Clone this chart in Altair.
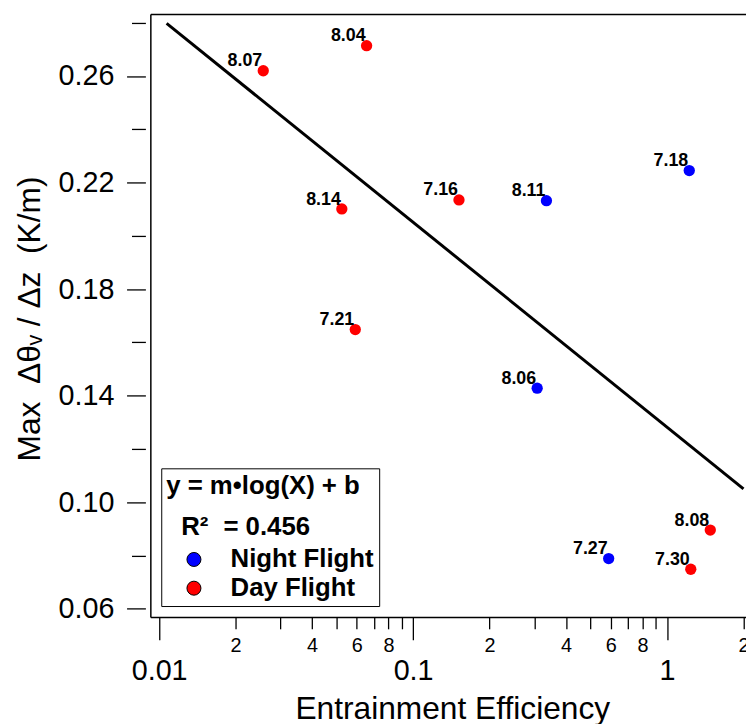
import altair as alt
import pandas as pd

# values
flight = ["8.07", "8.04", "8.14", "7.16", "8.11", "7.18", "7.21", "8.06", "7.27", "8.08", "7.30"]
efficiency = [0.0257, 0.0656, 0.0524, 0.1516, 0.335, 1.223, 0.0592, 0.308, 0.589, 1.480, 1.240]
max_gradient = [0.2620, 0.2714, 0.2101, 0.2135, 0.2132, 0.2245, 0.1648, 0.1428, 0.0788, 0.0895, 0.0748]
period = [
    "Day Flight", "Day Flight", "Day Flight", "Day Flight", "Night Flight", "Night Flight",
    "Day Flight", "Night Flight", "Night Flight", "Day Flight", "Day Flight",
]

# end points of the fitted line y = m*log(X) + b
fit_x = [0.0107, 2.0]
fit_y = [0.2798, 0.105]

x_ticks = [
    0.01, 0.02, 0.03, 0.04, 0.05, 0.06, 0.07, 0.08, 0.09,
    0.1, 0.2, 0.3, 0.4, 0.5, 0.6, 0.7, 0.8, 0.9,
    1, 2,
]
y_ticks = [0.06, 0.08, 0.10, 0.12, 0.14, 0.16, 0.18, 0.20, 0.22, 0.24, 0.26, 0.28]

points = pd.DataFrame(
    {"flight": flight, "eff": efficiency, "grad": max_gradient, "period": period}
)
fit = pd.DataFrame({"eff": fit_x, "grad": fit_y})

FONT = "Liberation Sans, Arial, sans-serif"
LOG = "log(datum.value)/LN10"
MAJOR_X = f"abs({LOG} - round({LOG})) < 0.001"
DIGIT = f"round(datum.value / pow(10, floor({LOG} + 0.001)))"
MAJOR_Y = "round(datum.value*100) % 4 == 2"

x_scale = alt.Scale(type="log", domain=[0.009233, 2.046], nice=False)
y_scale = alt.Scale(domain=[0.0569, 0.2833], nice=False, zero=False)

# frame lines (top and left) drawn by the fit layer's axes
line = (
    alt.Chart(fit)
    .mark_line(color="black", strokeWidth=3)
    .encode(
        alt.X("eff:Q", scale=x_scale).axis(
            orient="top", ticks=False, labels=False, grid=False,
            domainColor="black", domainWidth=1.5,
        ).title(None),
        alt.Y("grad:Q", scale=y_scale).axis(
            orient="left", offset=0, ticks=False, labels=False, grid=False,
            domainColor="black", domainWidth=1.5,
        ).title(None),
    )
)

dots = (
    alt.Chart(points)
    .mark_circle(size=130, opacity=1)
    .encode(
        alt.X("eff:Q", scale=x_scale).axis(
            orient="bottom",
            values=x_ticks,
            grid=False,
            domainColor="black",
            domainWidth=1.5,
            tickColor="black",
            tickWidth=1.3,
            tickSize={"condition": {"test": MAJOR_X, "value": 23}, "value": 12},
            labelExpr=f"{MAJOR_X} ? '' + datum.value : ({DIGIT} % 2 == 0 ? '' + {DIGIT} : '')",
            labelFontSize={"condition": {"test": MAJOR_X, "value": 29}, "value": 20},
            labelPadding={"condition": {"test": MAJOR_X, "value": 17}, "value": 6.5},
            labelColor="black",
            labelFont=FONT,
            labelBaseline="top",
            labelOverlap=False,
            labelFlush=False,
            titleFont=FONT,
            titleFontSize=32,
            titleFontWeight="normal",
            titleColor="black",
            titleBaseline="alphabetic",
            titleX=304.8,
            titleY=102.4,
        ).title("Entrainment Efficiency"),
        alt.Y("grad:Q", scale=y_scale).axis(
            orient="left",
            offset=5,
            domain=False,
            values=y_ticks,
            grid=False,
            tickColor="black",
            tickWidth=1.3,
            tickSize={"condition": {"test": MAJOR_Y, "value": 19}, "value": 14},
            labelExpr=f"{MAJOR_Y} ? format(datum.value, '.2f') : ''",
            labelFontSize=29,
            labelPadding=12.7,
            labelColor="black",
            labelFont=FONT,
            labelOverlap=False,
            labelFlush=False,
            titleFont=FONT,
            titleFontSize=32,
            titleFontWeight="normal",
            titleColor="black",
            titleBaseline="alphabetic",
            titleX=-106.7,
            titleY=307.3,
        ).title("Max\u00a0\u00a0Δθᵥ / Δz\u00a0\u00a0(K/m)"),
        alt.Color("period:N")
        .scale(domain=["Night Flight", "Day Flight"], range=["#0000FF", "#FF0000"])
        .legend(
            orient="none",
            legendX=11,
            legendY=458.6,
            # zero-width space keeps the indent of the second line from being trimmed
            title=["y = m•log(X) + b", "\u200b\u2002\u200aR²\u2002\u200a= 0.456"],
            titleFont=FONT,
            titleFontSize=26,
            titleFontWeight="bold",
            titleLineHeight=41,
            titleLimit=400,
            titleColor="black",
            titlePadding=7,
            labelFont=FONT,
            labelFontSize=26,
            labelFontWeight="bold",
            labelColor="black",
            labelLimit=400,
            labelOffset=24,
            symbolOffset=15,
            symbolSize=200,
            symbolType="circle",
            symbolOpacity=1,
            symbolStrokeColor="black",
            symbolStrokeWidth=1,
            rowPadding=3,
            padding=5,
            strokeColor="black",
            fillColor="white",
            cornerRadius=0,
        ),
    )
)

labels = (
    alt.Chart(points)
    .mark_text(
        align="right", baseline="alphabetic", dx=-1, dy=-4.5,
        font=FONT, fontSize=18, fontWeight="bold", color="black",
    )
    .encode(
        alt.X("eff:Q", scale=x_scale, axis=None),
        alt.Y("grad:Q", scale=y_scale, axis=None),
        text="flight:N",
    )
)

chart = (
    alt.layer(line, dots, labels)
    .resolve_axis(x="independent", y="independent")
    .properties(
        width=601.3,
        height=608.6,
        autosize=alt.AutoSizeParams(type="none"),
        padding={"left": 143.7, "top": 2.7, "right": 0, "bottom": 105},
    )
    .configure_view(strokeWidth=0)
)

chart.save("out.html", embed_options={"renderer": "svg", "actions": False})
